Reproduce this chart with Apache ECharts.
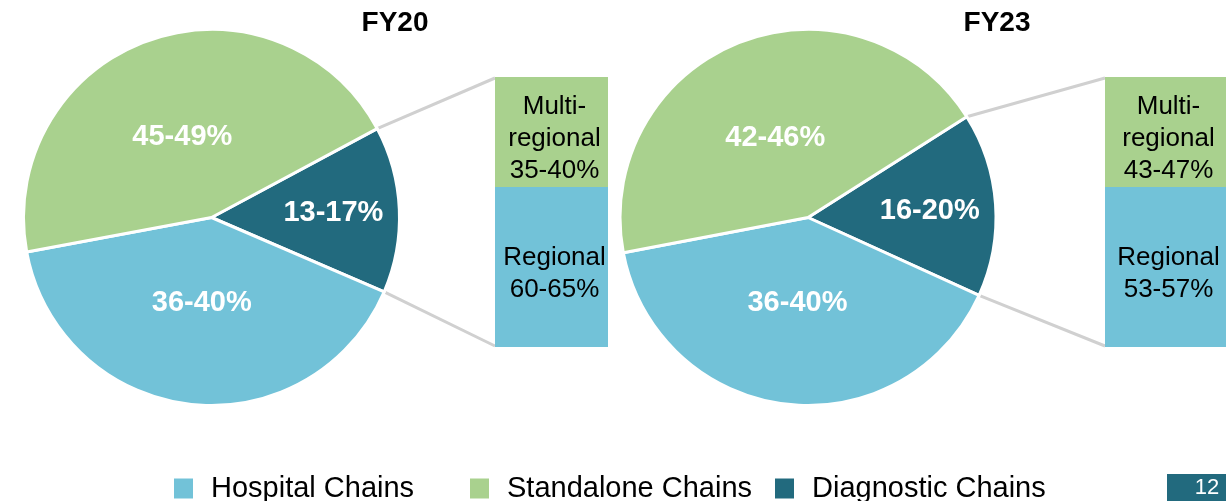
<!DOCTYPE html>
<html>
<head>
<meta charset="UTF-8">
<title>FY20 vs FY23</title>
<script src="https://cdn.jsdelivr.net/npm/echarts@6/dist/echarts.min.js"></script>
<style>
  html, body { margin: 0; padding: 0; background: #fff; }
  #main { width: 1226px; height: 501px; }
</style>
</head>
<body>
<div id="main"></div>
<script>
// slice names (legend order) and pie shares
var sliceNames = ['Diagnostic Chains', 'Hospital Chains', 'Standalone Chains'];
var fy20Share = [14.3, 40.6, 45.1];
var fy23Share = [15.8, 40.2, 44.0];
var fy20Labels = ['13-17%', '36-40%', '45-49%'];
var fy23Labels = ['16-20%', '36-40%', '42-46%'];

// breakdown of the diagnostic slice (bar of pie), bottom segment first
var barNames = ['Regional', 'Multi-regional'];
var fy20Bar = [59.3, 40.7];
var fy23Bar = [59.3, 40.7];
var fy20BarLabels = ['Regional\n60-65%', 'Multi-\nregional\n35-40%'];
var fy23BarLabels = ['Regional\n53-57%', 'Multi-\nregional\n43-47%'];

var titles = ['FY20', 'FY23'];

var BLUE = '#72c2d8', GREEN = '#a9d18e', TEAL = '#226a7e';
var sliceColors = [TEAL, BLUE, GREEN];
var labelOffsets = [[25, 0], [1, -11], [3, 11]];
var FONT = 'Liberation Sans, Arial, sans-serif';

var R = 188;
var pies = [
  { center: [211.5, 217.5], start: 28.2, share: fy20Share, labels: fy20Labels },
  { center: [808, 217.5], start: 32.4, share: fy23Share, labels: fy23Labels }
];
var bars = [
  { left: 495, width: 113, vals: fy20Bar, labels: fy20BarLabels },
  { left: 1105, width: 130, vals: fy23Bar, labels: fy23BarLabels }
];
var barTop = 77, barH = 270;

var myChart = echarts.init(document.getElementById('main'));

var series = [];
var graphic = [];

pies.forEach(function (p, k) {
  series.push({
    type: 'pie',
    center: p.center,
    radius: R,
    startAngle: p.start,
    clockwise: true,
    avoidLabelOverlap: false,
    animation: false,
    z: 3,
    itemStyle: { borderColor: '#fff', borderWidth: 3 },
    label: {
      show: true, position: 'inside', color: '#fff',
      fontSize: 29, fontWeight: 'bold', fontFamily: FONT
    },
    labelLine: { show: false },
    emphasis: { disabled: true },
    data: sliceNames.map(function (n, i) {
      return {
        name: n, value: p.share[i],
        itemStyle: { color: sliceColors[i] },
        label: { formatter: p.labels[i], offset: labelOffsets[i] }
      };
    })
  });

  // connectors from the diagnostic slice corners to the bar
  var a1 = p.start * Math.PI / 180;
  var a2 = (p.start - p.share[0] * 3.6) * Math.PI / 180;
  var c = p.center, bx = bars[k].left;
  graphic.push({
    type: 'line', z: 1,
    shape: { x1: c[0] + R * Math.cos(a1), y1: c[1] - R * Math.sin(a1), x2: bx, y2: barTop + 1 },
    style: { stroke: '#d0d0d0', lineWidth: 3 }
  });
  graphic.push({
    type: 'line', z: 1,
    shape: { x1: c[0] + R * Math.cos(a2), y1: c[1] - R * Math.sin(a2), x2: bx, y2: barTop + barH - 1 },
    style: { stroke: '#d0d0d0', lineWidth: 3 }
  });

  graphic.push({
    type: 'text', x: [395, 997][k], y: 23,
    style: {
      text: titles[k], font: 'bold 28px ' + FONT, fill: '#000',
      textAlign: 'center', textVerticalAlign: 'middle'
    }
  });
});

var grids = [], xAxes = [], yAxes = [];
bars.forEach(function (b, k) {
  grids.push({ left: b.left, top: barTop, width: b.width, height: barH });
  xAxes.push({ type: 'category', gridIndex: k, data: ['x'], show: false });
  yAxes.push({ type: 'value', gridIndex: k, min: 0, max: 100, show: false });
  barNames.forEach(function (n, i) {
    series.push({
      type: 'bar', name: n, xAxisIndex: k, yAxisIndex: k,
      stack: 'b' + k, barWidth: '100%', animation: false,
      itemStyle: { color: i === 0 ? BLUE : GREEN },
      label: {
        show: true, position: 'inside', offset: [3, 7],
        color: '#000', fontSize: 26, lineHeight: 32, fontFamily: FONT,
        formatter: b.labels[i]
      },
      emphasis: { disabled: true },
      data: [b.vals[i]]
    });
  });
});

// page number tab
graphic.push({ type: 'rect', shape: { x: 1167, y: 474, width: 70, height: 40 }, style: { fill: TEAL } });
graphic.push({
  type: 'text', x: 1207, y: 488,
  style: { text: '12', font: '22px ' + FONT, fill: '#fff', textAlign: 'center', textVerticalAlign: 'middle' }
});

var legendNames = ['Hospital Chains', 'Standalone Chains', 'Diagnostic Chains'];
var legendLeft = [172, 468, 773];
var legends = legendNames.map(function (n, i) {
  return {
    data: [n], left: legendLeft[i], top: 474, padding: 0,
    icon: 'rect', itemWidth: 21, itemHeight: 22, selectedMode: false,
    textStyle: { fontSize: 29, color: '#000', fontFamily: FONT, padding: [0, 0, 0, 12] }
  };
});

var option = {
  animation: false,
  legend: legends,
  grid: grids,
  xAxis: xAxes,
  yAxis: yAxes,
  graphic: graphic,
  series: series
};

myChart.setOption(option);
</script>
</body>
</html>
